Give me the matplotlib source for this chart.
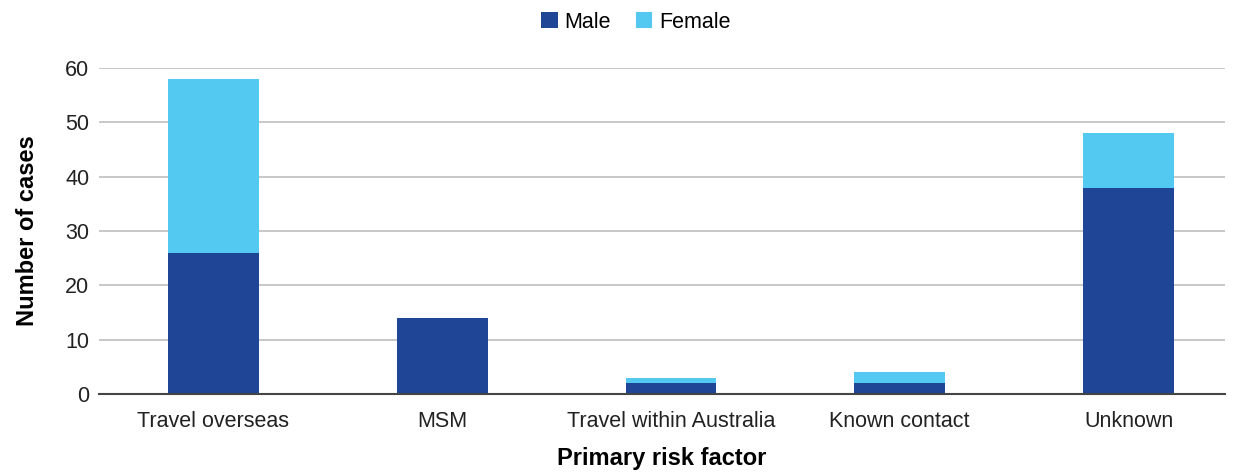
import matplotlib.pyplot as plt
import numpy as np

plt.rcParams['font.family'] = ['Liberation Sans', 'DejaVu Sans']

# Data
categories = ['Travel overseas', 'MSM', 'Travel within Australia', 'Known contact', 'Unknown']
male = [26, 14, 2, 2, 38]
female = [32, 0, 1, 2, 10]

fig = plt.figure(figsize=(12.37, 4.72), dpi=100)
ax = fig.add_axes([0.080, 0.165, 0.910, 0.691])

x = np.arange(len(categories))
w = 0.397
ax.bar(x, male, w, color='#1F4596', label='Male', zorder=3)
ax.bar(x, female, w, bottom=male, color='#53C8F0', label='Female', zorder=3)

ax.set_xlim(-0.5, 4.42)
ax.set_ylim(0, 60)
ax.set_yticks(range(0, 61, 10))
ax.yaxis.grid(True, color='#BFBFBF', linewidth=1.2, zorder=0)
ax.set_xticks(x)
ax.set_xticklabels(categories)
ax.tick_params(axis='both', length=0, labelsize=15.5, colors='#222222')
ax.tick_params(axis='x', pad=12)
ax.tick_params(axis='y', pad=7)

for s in ['top', 'right', 'left']:
    ax.spines[s].set_visible(False)
ax.spines['bottom'].set_color('#444444')
ax.spines['bottom'].set_linewidth(1.5)
ax.spines['bottom'].set_zorder(4)

ax.set_xlabel('Primary risk factor', fontsize=17, fontweight='bold', labelpad=11)
ax.set_ylabel('Number of cases', fontsize=17, fontweight='bold', labelpad=19)

ax.legend(loc='lower center', bbox_to_anchor=(0.477, 1.075), ncol=2, frameon=False,
          fontsize=15.5, handlelength=0.75, handleheight=0.75, handletextpad=0.3,
          columnspacing=1.2, borderpad=0)

fig.savefig('out.png', dpi=100)
